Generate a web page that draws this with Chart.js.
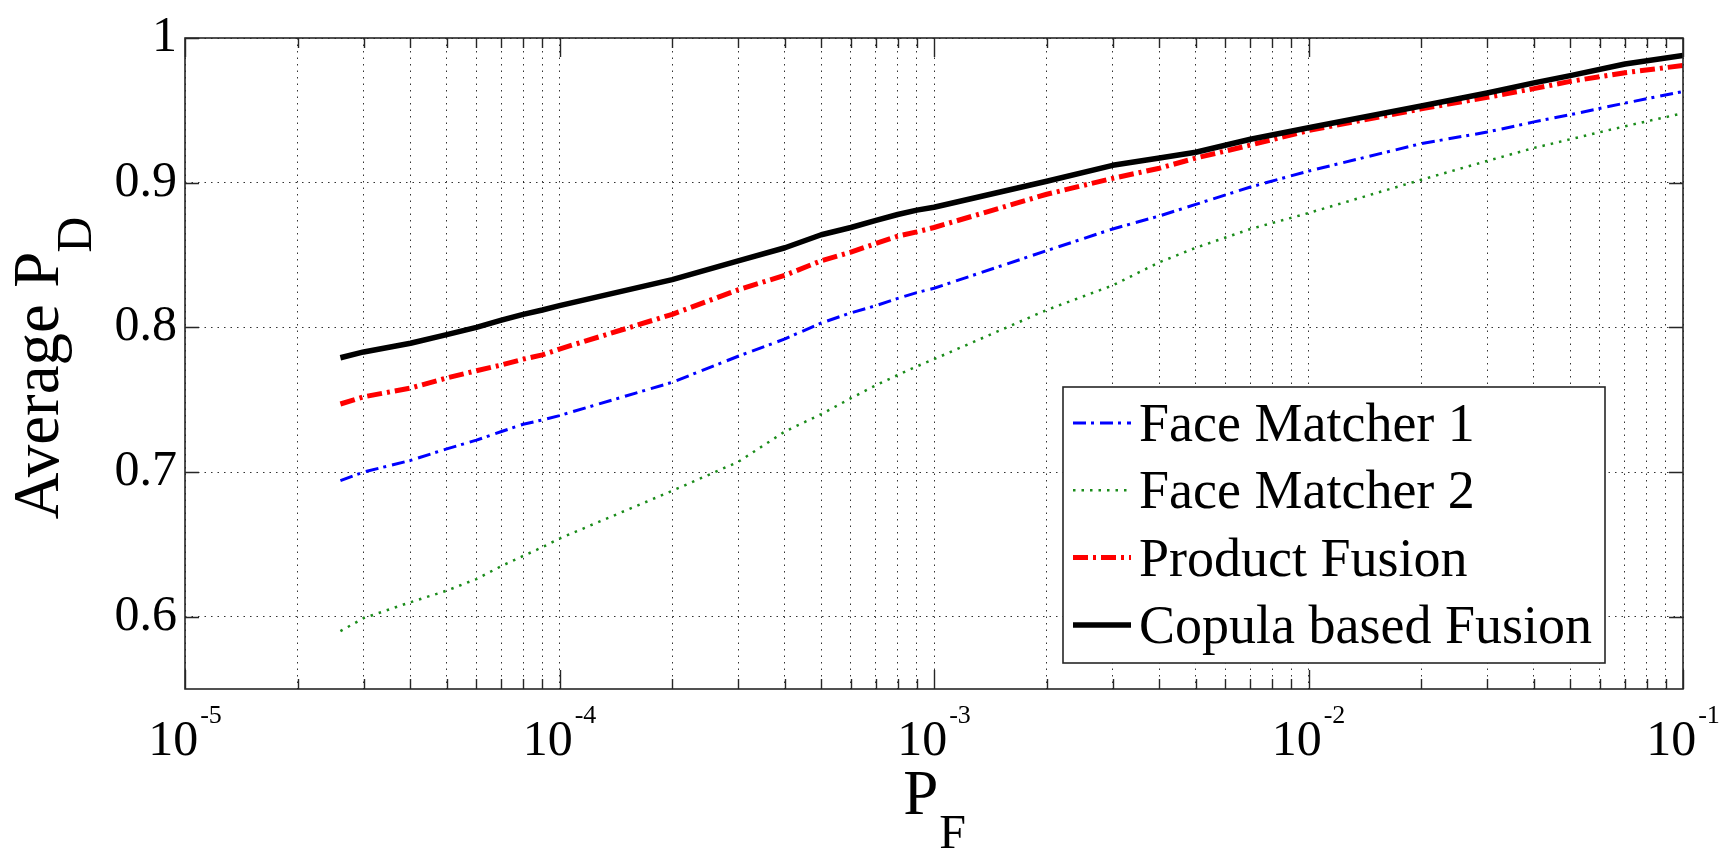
<!DOCTYPE html>
<html>
<head>
<meta charset="utf-8">
<script src="https://cdn.jsdelivr.net/npm/chart.js@4.4.1/dist/chart.umd.min.js"></script>
<style>
  html, body { margin: 0; padding: 0; background: #ffffff; }
  #wrap { width: 1736px; height: 850px; position: relative; }
  #probe { font-family: 'Liberation Serif', 'DejaVu Serif', serif; position: absolute; left: -9999px; top: 0; }
</style>
</head>
<body>
<div id="wrap"><canvas id="c"></canvas></div>
<span id="probe">Face 0.9</span>
<script>
// ---------------- data ----------------
const pfValues = [2.6e-5, 3e-5, 4e-5, 5e-5, 6e-5, 7e-5, 8e-5, 9e-5, 1e-4, 2e-4, 3e-4, 4e-4, 5e-4, 6e-4, 7e-4, 8e-4, 9e-4,
                  1e-3, 2e-3, 3e-3, 4e-3, 5e-3, 7e-3, 1e-2, 2e-2, 3e-2, 4e-2, 5e-2, 7e-2, 1e-1];
const faceMatcher1 = [0.694, 0.700, 0.708, 0.716, 0.722, 0.728, 0.733, 0.736, 0.739, 0.762, 0.780, 0.792, 0.803, 0.810, 0.815, 0.820, 0.824,
                      0.827, 0.853, 0.868, 0.877, 0.885, 0.897, 0.908, 0.927, 0.935, 0.942, 0.947, 0.955, 0.963];
const faceMatcher2 = [0.590, 0.599, 0.610, 0.618, 0.626, 0.635, 0.642, 0.648, 0.654, 0.687, 0.707, 0.728, 0.740, 0.751, 0.760, 0.767, 0.773,
                      0.778, 0.812, 0.829, 0.845, 0.855, 0.868, 0.879, 0.902, 0.915, 0.924, 0.930, 0.939, 0.948];
const productFusion = [0.747, 0.752, 0.758, 0.765, 0.770, 0.774, 0.778, 0.781, 0.785, 0.809, 0.826, 0.836, 0.846, 0.852, 0.858, 0.863, 0.866,
                       0.869, 0.892, 0.903, 0.910, 0.917, 0.926, 0.936, 0.951, 0.959, 0.965, 0.970, 0.976, 0.981];
const copulaFusion = [0.779, 0.783, 0.789, 0.795, 0.800, 0.805, 0.809, 0.812, 0.815, 0.833, 0.846, 0.855, 0.864, 0.869, 0.874, 0.878, 0.881,
                      0.883, 0.901, 0.912, 0.917, 0.921, 0.930, 0.938, 0.953, 0.962, 0.969, 0.974, 0.982, 0.988];
const seriesLabels = ['Face Matcher 1', 'Face Matcher 2', 'Product Fusion', 'Copula based Fusion'];

const xDecades = [1e-5, 1e-4, 1e-3, 1e-2, 1e-1];
const xTickBase = '10';
const xTickExponents = ['-5', '-4', '-3', '-2', '-1'];
const xMinorMultipliers = [2, 3, 4, 5, 6, 7, 8, 9];
const yTicks = [0.6, 0.7, 0.8, 0.9, 1];
const yTickLabels = ['0.6', '0.7', '0.8', '0.9', '1'];
const yRange = [0.55, 1];
const xTitleParts = ['P', 'F'];
const yTitleParts = ['Average P', 'D'];

// ---------------- derived ----------------
const xGridValues = [];
xDecades.forEach((d, i) => {
  xGridValues.push(d);
  if (i < xDecades.length - 1) xMinorMultipliers.forEach(m => xGridValues.push(d * m));
});
const toPoints = arr => pfValues.map((x, i) => ({ x: x, y: arr[i] }));

const FONT = "'Liberation Serif', 'DejaVu Serif', serif";

const decor = {
  id: 'decor',
  afterDraw(chart) {
    const { ctx, chartArea: a, scales } = chart;
    const xs = scales.x, ys = scales.y;
    ctx.save();
    ctx.setLineDash([]);

    // axes box
    ctx.strokeStyle = '#262626';
    ctx.lineWidth = 1.6;
    ctx.strokeRect(a.left, a.top, a.right - a.left, a.bottom - a.top);

    // inward ticks
    ctx.lineWidth = 1.4;
    ctx.beginPath();
    xGridValues.forEach(v => {
      const px = Math.round(xs.getPixelForValue(v)) + 0.5;
      const len = xDecades.includes(v) ? 19 : 10;
      ctx.moveTo(px, a.bottom); ctx.lineTo(px, a.bottom - len);
      ctx.moveTo(px, a.top); ctx.lineTo(px, a.top + len);
    });
    yTicks.forEach(v => {
      const py = Math.round(ys.getPixelForValue(v)) + 0.5;
      ctx.moveTo(a.left, py); ctx.lineTo(a.left + 14, py);
      ctx.moveTo(a.right, py); ctx.lineTo(a.right - 14, py);
    });
    ctx.stroke();

    // x tick labels 10^n
    ctx.fillStyle = '#000';
    ctx.textBaseline = 'alphabetic';
    ctx.textAlign = 'left';
    xDecades.forEach((v, i) => {
      const px = xs.getPixelForValue(v);
      ctx.font = '50px ' + FONT;
      const wb = ctx.measureText(xTickBase).width;
      ctx.font = '26px ' + FONT;
      const we = ctx.measureText(xTickExponents[i]).width;
      const start = px - (wb + 2 + we) / 2;
      ctx.font = '50px ' + FONT;
      ctx.fillText(xTickBase, start, a.bottom + 66);
      ctx.font = '26px ' + FONT;
      ctx.fillText(xTickExponents[i], start + wb + 2, a.bottom + 34);
    });

    // x title P_F
    const cx = (a.left + a.right) / 2;
    ctx.font = '63px ' + FONT;
    const wP = ctx.measureText(xTitleParts[0]).width;
    ctx.font = '48px ' + FONT;
    const wF = ctx.measureText(xTitleParts[1]).width;
    const sx = cx - (wP + wF) / 2;
    ctx.font = '63px ' + FONT;
    ctx.fillText(xTitleParts[0], sx, a.bottom + 125);
    ctx.font = '48px ' + FONT;
    ctx.fillText(xTitleParts[1], sx + wP + 1, a.bottom + 159);

    // y title Average P_D (rotated)
    ctx.font = '65px ' + FONT;
    const wA = ctx.measureText(yTitleParts[0]).width;
    ctx.font = '50px ' + FONT;
    const wD = ctx.measureText(yTitleParts[1]).width;
    const cy = (a.top + a.bottom) / 2 + 4;
    ctx.save();
    ctx.translate(a.left - 127, cy + (wA + wD) / 2);
    ctx.rotate(-Math.PI / 2);
    ctx.font = '65px ' + FONT;
    ctx.fillText(yTitleParts[0], 0, 0);
    ctx.font = '50px ' + FONT;
    ctx.fillText(yTitleParts[1], wA - 1, 33);
    ctx.restore();

    // legend
    const lr = a.right - 78, lb = a.bottom - 26;
    const lw = 542, lh = 276;
    const ll = lr - lw, lt = lb - lh;
    ctx.fillStyle = '#ffffff';
    ctx.fillRect(ll, lt, lw, lh);
    ctx.strokeStyle = '#262626';
    ctx.lineWidth = 1.6;
    ctx.setLineDash([]);
    ctx.strokeRect(ll, lt, lw, lh);
    chart.data.datasets.forEach((ds, i) => {
      const ly = lt + 36 + i * 67.3;
      ctx.save();
      ctx.strokeStyle = ds.borderColor;
      ctx.lineWidth = ds.borderWidth;
      ctx.setLineDash(ds.borderDash || []);
      ctx.lineCap = 'butt';
      ctx.beginPath();
      ctx.moveTo(ll + 10, ly);
      ctx.lineTo(ll + 68, ly);
      ctx.stroke();
      ctx.restore();
      ctx.fillStyle = '#000';
      ctx.font = '54px ' + FONT;
      ctx.fillText(ds.label, ll + 76, ly + 18);
    });
    ctx.restore();
  }
};

function build() {
  const chart = new Chart(document.getElementById('c'), {
    type: 'line',
    data: {
      datasets: [
        { label: seriesLabels[0], data: toPoints(faceMatcher1), borderColor: '#0000ff', borderWidth: 3, borderDash: [13, 5, 3, 6], order: 2 },
        { label: seriesLabels[1], data: toPoints(faceMatcher2), borderColor: '#1a8c1a', borderWidth: 2.5, borderDash: [2.5, 6], order: 3 },
        { label: seriesLabels[2], data: toPoints(productFusion), borderColor: '#ff0000', borderWidth: 5, borderDash: [15, 5, 3, 5], order: 1 },
        { label: seriesLabels[3], data: toPoints(copulaFusion), borderColor: '#000000', borderWidth: 5.5, borderDash: [], order: 0 }
      ].map(d => Object.assign(d, { pointRadius: 0, fill: false, tension: 0, borderCapStyle: 'butt', borderJoinStyle: 'round' }))
    },
    options: {
      responsive: true,
      maintainAspectRatio: false,
      animation: false,
      layout: { padding: { top: 25, right: 53, left: 0, bottom: 0 } },
      plugins: { legend: { display: false }, tooltip: { enabled: false }, title: { display: false } },
      scales: {
        x: {
          type: 'logarithmic',
          min: xDecades[0],
          max: xDecades[xDecades.length - 1],
          afterBuildTicks: s => { s.ticks = xGridValues.map(v => ({ value: v })); },
          afterFit: s => { s.height = 161; },
          ticks: { display: false },
          grid: { color: 'rgba(0,0,0,0.8)', lineWidth: 1, drawTicks: false },
          border: { display: false, dash: [1.5, 5] }
        },
        y: {
          type: 'linear',
          min: yRange[0],
          max: yRange[1],
          afterBuildTicks: s => { s.ticks = yTicks.map(v => ({ value: v })); },
          afterFit: s => { s.width = 185; },
          ticks: {
            color: '#000',
            padding: 8,
            font: { family: FONT, size: 50 },
            callback: (v, i) => yTickLabels[i]
          },
          grid: { color: 'rgba(0,0,0,0.8)', lineWidth: 1, drawTicks: false },
          border: { display: false, dash: [1.5, 5] }
        }
      }
    },
    plugins: [decor]
  });
  setTimeout(() => chart.draw(), 300);
}

const fontLoads = [
  document.fonts.load("50px 'Liberation Serif'"),
  document.fonts.load("50px 'DejaVu Serif'")
];
Promise.race([Promise.all(fontLoads), new Promise(r => setTimeout(r, 800))])
  .then(build, build);
</script>
</body>
</html>
